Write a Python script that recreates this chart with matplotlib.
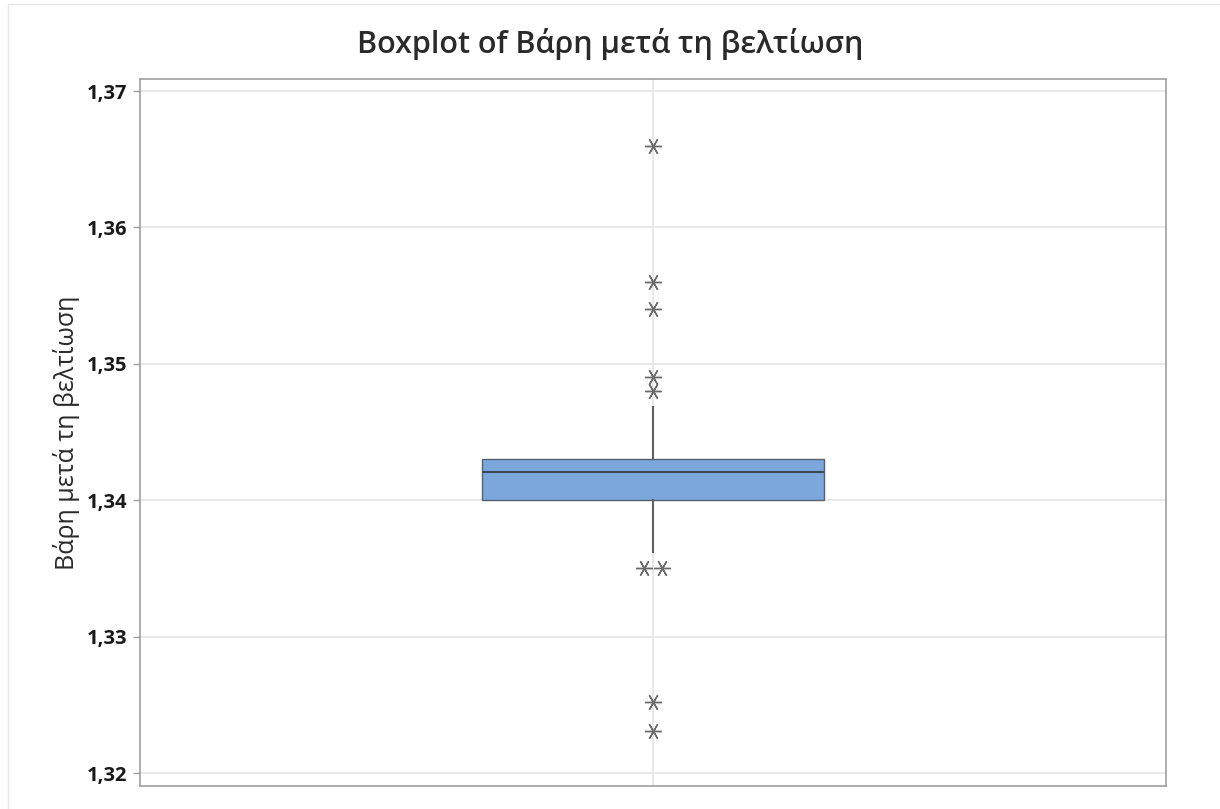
import matplotlib
matplotlib.use('Agg')
import matplotlib.pyplot as plt
from matplotlib.ticker import FuncFormatter
from matplotlib.lines import Line2D

plt.rcParams['font.family'] = ['Open Sans', 'DejaVu Sans']

# data
title = 'Boxplot of Βάρη μετά τη βελτίωση'
ylabel = 'Βάρη μετά τη βελτίωση'
q1 = 1.3400
median = 1.3421
q3 = 1.3430
whisker_low = 1.3362
whisker_high = 1.3468
outliers = [1.3660, 1.3560, 1.3540, 1.3490, 1.3480, 1.3350, 1.3350, 1.3252, 1.3231]
yticks = [1.32, 1.33, 1.34, 1.35, 1.36, 1.37]


# tied outliers are drawn side by side like minitab does
def tie_offsets(values, step):
    counts = {}
    for v in values:
        counts[v] = counts.get(v, 0) + 1
    seen = {}
    offs = []
    for v in values:
        k = seen.get(v, 0)
        seen[v] = k + 1
        offs.append((k - (counts[v] - 1) / 2.0) * step)
    return offs


fig = plt.figure(figsize=(12.2, 8.09), dpi=100)
ax = fig.add_axes([140 / 1220, 1 - 786 / 809, 1026 / 1220, 707 / 809])

stats = [{'med': median, 'q1': q1, 'q3': q3,
          'whislo': whisker_low, 'whishi': whisker_high, 'fliers': []}]
ax.bxp(stats, positions=[1], widths=0.667, patch_artist=True, showfliers=False,
       showcaps=False,
       boxprops=dict(facecolor='#7ba7dc', edgecolor='#56606c', linewidth=1.0),
       medianprops=dict(color='#3f4a57', linewidth=1.5),
       whiskerprops=dict(color='#606060', linewidth=1.5),
       zorder=3)

xs = [1 + o for o in tie_offsets(outliers, 0.035)]
ax.plot(xs, outliers, linestyle='none', marker=(6, 2, 90), markersize=12,
        markeredgecolor='#6a6a6a', markeredgewidth=1.0, zorder=4)

ax.set_xlim(0, 2)
ax.set_ylim(1.31905, 1.37088)
ax.set_yticks(yticks)
ax.yaxis.set_major_formatter(FuncFormatter(lambda v, p: ('%.2f' % v).replace('.', ',')))
ax.set_xticks([1])
ax.set_xticklabels([''])
ax.tick_params(axis='x', length=0)
ax.tick_params(axis='y', length=5, width=1, color='#a0a0a0', labelsize=14.5, pad=4)
for lab in ax.get_yticklabels():
    lab.set_fontweight('bold')
    lab.set_color('#1a1a1a')

ax.grid(True, color='#e4e4e4', linewidth=1.2, zorder=0)
ax.set_axisbelow(True)
for s in ax.spines.values():
    s.set_color('#a0a0a0')
    s.set_linewidth(1.2)

ax.set_ylabel(ylabel, fontsize=18, color='#2a2a2a', labelpad=5)
fig.text(0.5, 1 - 44 / 809, title, ha='center', va='center', fontsize=22,
         fontweight='semibold', color='#2a2a2a')

# faint border of the original screenshot
fig.add_artist(Line2D([8 / 1220, 8 / 1220], [0, 1 - 4 / 809], color='#e8e8e8', linewidth=1))
fig.add_artist(Line2D([8 / 1220, 1], [1 - 4 / 809, 1 - 4 / 809], color='#e8e8e8', linewidth=1))

fig.savefig('out.png', dpi=100)
